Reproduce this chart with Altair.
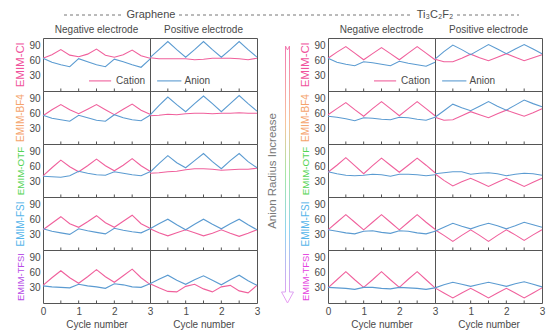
import altair as alt
import pandas as pd

CYCLE = [0, 0.25, 0.5, 0.75, 1, 1.25, 1.5, 1.75, 2, 2.25, 2.5, 2.75, 3]
ELECTROLYTES = ["EMIM-Cl", "EMIM-BF4", "EMIM-OTF", "EMIM-FSI", "EMIM-TFSI"]
LEFT_COLORS = ["#f0529c", "#f5a36c", "#54d454", "#55b5ea", "#b64be6"]
RIGHT_COLORS = ["#f0529c", "#f5a36c", "#54d454", "#55b5ea", "#e43fe0"]
LABEL_SIZES = [11.5, 10, 9.8, 10, 9.4]
TICKS = [0.5, 1, 1.5, 2, 2.5]

# Graphene, negative electrode (cation / anion)
gn_cl_cat = [65, 72, 82, 71, 68, 73, 83, 71, 67, 72, 81, 70, 65]
gn_cl_an = [65, 57, 52, 48, 64, 58, 52, 48, 63, 58, 52, 47, 63]
gn_bf4_cat = [56, 68, 78, 68, 60, 69, 78, 68, 58, 69, 79, 67, 59]
gn_bf4_an = [57, 51, 48, 45, 57, 52, 47, 45, 58, 52, 48, 46, 57]
gn_otf_cat = [42, 58, 73, 60, 50, 62, 75, 62, 52, 63, 76, 62, 51]
gn_otf_an = [41, 40, 39, 42, 51, 47, 44, 43, 50, 47, 44, 42, 50]
gn_fsi_cat = [40, 53, 66, 52, 45, 56, 68, 54, 45, 57, 69, 52, 43]
gn_fsi_an = [42, 37, 34, 31, 42, 38, 35, 32, 43, 39, 36, 34, 42]
gn_tfsi_cat = [35, 50, 64, 50, 39, 52, 66, 52, 41, 54, 67, 50, 37]
gn_tfsi_an = [34, 32, 31, 30, 37, 34, 32, 29, 38, 36, 32, 31, 38]

# Graphene, positive electrode
gp_cl_cat = [66, 64, 64, 64, 64, 62, 63, 65, 65, 65, 64, 62, 65]
gp_cl_an = [66, 82, 98, 82, 67, 82, 98, 82, 67, 82, 98, 82, 67]
gp_bf4_cat = [56, 57, 59, 58, 60, 61, 61, 60, 61, 61, 62, 61, 61]
gp_bf4_an = [57, 76, 93, 78, 64, 80, 95, 80, 64, 80, 96, 80, 65]
gp_otf_cat = [47, 48, 50, 51, 54, 56, 56, 55, 53, 54, 55, 55, 57]
gp_otf_an = [49, 66, 82, 68, 58, 72, 86, 70, 56, 72, 86, 70, 58]
gp_fsi_cat = [42, 34, 28, 34, 40, 34, 28, 33, 40, 33, 27, 33, 40]
gp_fsi_an = [42, 52, 61, 50, 40, 51, 61, 51, 42, 52, 61, 50, 40]
gp_tfsi_cat = [38, 30, 23, 22, 33, 37, 28, 22, 32, 35, 24, 20, 35]
gp_tfsi_an = [38, 47, 55, 45, 37, 46, 54, 45, 36, 46, 55, 44, 35]

# Ti3C2F2, negative electrode
tn_cl_cat = [65, 77, 88, 75, 62, 74, 86, 74, 62, 75, 88, 75, 62]
tn_cl_an = [65, 57, 53, 50, 58, 56, 53, 50, 59, 55, 52, 49, 57]
tn_bf4_cat = [58, 70, 82, 68, 55, 70, 84, 70, 56, 70, 84, 70, 56]
tn_bf4_an = [55, 53, 50, 46, 52, 51, 49, 48, 53, 52, 49, 47, 53]
tn_otf_cat = [49, 63, 78, 62, 46, 62, 77, 63, 49, 63, 77, 63, 48]
tn_otf_an = [50, 46, 43, 42, 43, 45, 44, 41, 45, 45, 44, 42, 44]
tn_fsi_cat = [40, 55, 70, 55, 40, 55, 70, 55, 40, 55, 70, 55, 41]
tn_fsi_an = [40, 37, 34, 32, 37, 38, 35, 33, 38, 37, 34, 32, 37]
tn_tfsi_cat = [30, 46, 62, 46, 31, 46, 62, 46, 31, 47, 62, 46, 30]
tn_tfsi_an = [31, 30, 29, 27, 31, 31, 29, 28, 31, 30, 29, 27, 30]

# Ti3C2F2, positive electrode
tp_cl_cat = [63, 58, 58, 65, 73, 66, 60, 67, 74, 67, 60, 66, 72]
tp_cl_an = [63, 78, 91, 82, 72, 82, 92, 83, 74, 83, 92, 83, 74]
tp_bf4_cat = [53, 47, 48, 56, 64, 58, 52, 60, 67, 61, 55, 62, 70]
tp_bf4_an = [53, 66, 79, 72, 66, 75, 84, 75, 67, 77, 87, 80, 74]
tp_otf_cat = [46, 33, 22, 30, 37, 29, 21, 29, 37, 29, 21, 29, 37]
tp_otf_an = [46, 48, 50, 50, 45, 47, 48, 46, 42, 45, 47, 46, 43]
tp_fsi_cat = [40, 29, 17, 29, 40, 29, 17, 29, 40, 30, 19, 30, 40]
tp_fsi_an = [37, 45, 53, 47, 42, 48, 53, 48, 42, 48, 55, 50, 45]
tp_tfsi_cat = [30, 20, 10, 20, 29, 20, 10, 20, 29, 20, 10, 20, 30]
tp_tfsi_an = [30, 36, 41, 37, 33, 37, 41, 37, 33, 38, 42, 37, 32]

GN = [(gn_cl_cat, gn_cl_an), (gn_bf4_cat, gn_bf4_an), (gn_otf_cat, gn_otf_an),
      (gn_fsi_cat, gn_fsi_an), (gn_tfsi_cat, gn_tfsi_an)]
GP = [(gp_cl_cat, gp_cl_an), (gp_bf4_cat, gp_bf4_an), (gp_otf_cat, gp_otf_an),
      (gp_fsi_cat, gp_fsi_an), (gp_tfsi_cat, gp_tfsi_an)]
TN = [(tn_cl_cat, tn_cl_an), (tn_bf4_cat, tn_bf4_an), (tn_otf_cat, tn_otf_an),
      (tn_fsi_cat, tn_fsi_an), (tn_tfsi_cat, tn_tfsi_an)]
TP = [(tp_cl_cat, tp_cl_an), (tp_bf4_cat, tp_bf4_an), (tp_otf_cat, tp_otf_an),
      (tp_fsi_cat, tp_fsi_an), (tp_tfsi_cat, tp_tfsi_an)]

# legend annotation positions (data units in first-row panels)
LEG_NEG = {"x": [1.29], "x2": [1.91], "v": [20], "tx": [2.05], "label": ["Cation"]}
LEG_POS = {"x": [0.2], "x2": [0.88], "v": [20], "tx": [0.97], "label": ["Anion"]}

PINK = "#f0609c"
BLUE = "#5b9bd1"
TXT = "#4a4a4a"
FRAME = "#555555"
FONT = "Liberation Sans"
W, H, MIDW = 107, 53, 71


def panel(cat, an, row, side, label, label_color):
    n = len(CYCLE)
    df = pd.DataFrame({"x": CYCLE + CYCLE, "v": cat + an,
                       "s": ["Cation"] * n + ["Anion"] * n})
    left = side == "neg"
    if row == 4:
        xaxis = alt.Axis(values=[0, 1, 2, 3] if left else [1, 2, 3], title="Cycle number",
                         ticks=False, domain=False, grid=False, labelFlush=False,
                         labelPadding=3, titlePadding=3, format="d")
    else:
        xaxis = None
    xenc = alt.X("x:Q", scale=alt.Scale(domain=[0, 3], nice=False, zero=False), axis=xaxis)
    if left:
        yaxis = alt.Axis(values=[30, 60, 90], title=label, titleColor=label_color,
                         ticks=False, domain=False, grid=False, labelPadding=3,
                         titlePadding=3, titleFontSize=LABEL_SIZES[row])
    else:
        yaxis = None
    yenc = alt.Y("v:Q", scale=alt.Scale(domain=[0, 105], nice=False, zero=False), axis=yaxis)

    lines = alt.Chart(df).mark_line(strokeWidth=1.1).encode(
        x=xenc, y=yenc,
        color=alt.Color("s:N", scale=alt.Scale(domain=["Cation", "Anion"], range=[PINK, BLUE]),
                        legend=None),
    )
    tdf = pd.DataFrame({"x": TICKS, "v": [0] * len(TICKS), "v2": [5] * len(TICKS)})
    ticks = alt.Chart(tdf).mark_rule(color=FRAME, strokeWidth=1).encode(
        x=xenc, y=yenc, y2="v2:Q")
    layers = [lines, ticks]
    if row == 0:
        leg = LEG_NEG if left else LEG_POS
        lcol = PINK if left else BLUE
        ldf = pd.DataFrame(leg)
        layers.append(alt.Chart(ldf).mark_rule(color=lcol, strokeWidth=1.1).encode(
            x=xenc, x2="x2:Q", y=yenc))
        tdf2 = pd.DataFrame({"x": leg["tx"], "v": leg["v"], "label": leg["label"]})
        layers.append(alt.Chart(tdf2).mark_text(align="left", baseline="middle", fontSize=10,
                                                color=TXT, font=FONT).encode(
            x=xenc, y=yenc, text="label:N"))
    ch = alt.layer(*layers).properties(width=W, height=H)
    if row == 0:
        ch = ch.properties(title=alt.TitleParams(
            "Negative electrode" if left else "Positive electrode",
            fontSize=10, fontWeight="normal", color=TXT, font=FONT, offset=3, anchor="middle"))
    return ch


# ---- annotations in page-like coordinates, drawn from the middle column ----
# middle column spans page x 256..327, first row spans page y 37..90
pxs = alt.Scale(domain=[256, 256 + MIDW], nice=False, zero=False)
pys = alt.Scale(domain=[37, 37 + H], nice=False, zero=False, reverse=True)

ARROW_X = [286.5, 284.5, 284.5, 280.5, 286.5, 292.5, 288.5, 288.5, 286.5]
ARROW_Y = [49, 45, 291, 291, 302, 291, 291, 45, 49]
SEG_X = [63, 178, 456]
SEG_X2 = [122, 412, 518]
SEG_Y = [14, 14, 14]
MAT_X = [150, 434]
MAT_Y = [14, 14]
MAT_LABEL = ["Graphene", "Ti\u2083C\u2082F\u2082"]

grad = alt.LinearGradient(
    gradient="linear",
    stops=[alt.GradientStop(color="#f27ab0", offset=0),
           alt.GradientStop(color="#f7c49b", offset=0.3),
           alt.GradientStop(color="#a6e6a6", offset=0.5),
           alt.GradientStop(color="#8fd3f0", offset=0.72),
           alt.GradientStop(color="#ea9af2", offset=1)],
    x1=0, x2=0, y1=0, y2=1)


def pxe(f):
    return alt.X(f, scale=pxs, axis=None)


def pye(f):
    return alt.Y(f, scale=pys, axis=None)


arrow_df = pd.DataFrame({"px": ARROW_X, "py": ARROW_Y, "o": list(range(len(ARROW_X)))})
arrow_line = alt.Chart(arrow_df).mark_line(color=grad, strokeWidth=1, strokeJoin="miter").encode(
    x=pxe("px:Q"), y=pye("py:Q"), order="o:Q")
arrow_txt = alt.Chart(pd.DataFrame({"px": [272], "py": [170], "t": ["Anion Radius Increase"]})
                      ).mark_text(angle=270, fontSize=11.5, color="#7a7a7a", font=FONT,
                                  baseline="middle").encode(
    x=pxe("px:Q"), y=pye("py:Q"), text="t:N")
seg = alt.Chart(pd.DataFrame({"px": SEG_X, "px2": SEG_X2, "py": SEG_Y})).mark_rule(
    color="#777777", strokeDash=[3, 3], strokeWidth=1).encode(
    x=pxe("px:Q"), x2="px2:Q", y=pye("py:Q"))
mat = alt.Chart(pd.DataFrame({"px": MAT_X, "py": MAT_Y, "t": MAT_LABEL})).mark_text(
    fontSize=11, color=TXT, font=FONT, baseline="middle").encode(
    x=pxe("px:Q"), y=pye("py:Q"), text="t:N")


def mid(row):
    if row == 0:
        ch = alt.layer(seg, mat, arrow_line, arrow_txt)
    else:
        ch = alt.Chart(pd.DataFrame({"px": [290], "py": [60]})).mark_point(opacity=0).encode(
            x=pxe("px:Q"), y=pye("py:Q"))
    return ch.properties(width=MIDW, height=H, view=alt.ViewBackground(stroke="transparent"))


cells = []
for i in range(5):
    cells.append(panel(GN[i][0], GN[i][1], i, "neg", ELECTROLYTES[i], LEFT_COLORS[i]))
    cells.append(panel(GP[i][0], GP[i][1], i, "pos", ELECTROLYTES[i], LEFT_COLORS[i]))
    cells.append(mid(i))
    cells.append(panel(TN[i][0], TN[i][1], i, "neg", ELECTROLYTES[i], RIGHT_COLORS[i]))
    cells.append(panel(TP[i][0], TP[i][1], i, "pos", ELECTROLYTES[i], RIGHT_COLORS[i]))

chart = alt.concat(*cells, columns=5, spacing=0, bounds="flush").properties(
    padding={"left": 14, "top": 8, "right": 5, "bottom": 5},
    background="white",
).configure(font=FONT).configure_view(stroke=FRAME, strokeWidth=1).configure_axis(
    labelFontSize=10, labelColor=TXT, titleFontSize=10, titleFontWeight="normal",
    titleColor=TXT, labelFont=FONT, titleFont=FONT)

chart.save("out.html", embed_options={"renderer": "svg", "actions": False})
